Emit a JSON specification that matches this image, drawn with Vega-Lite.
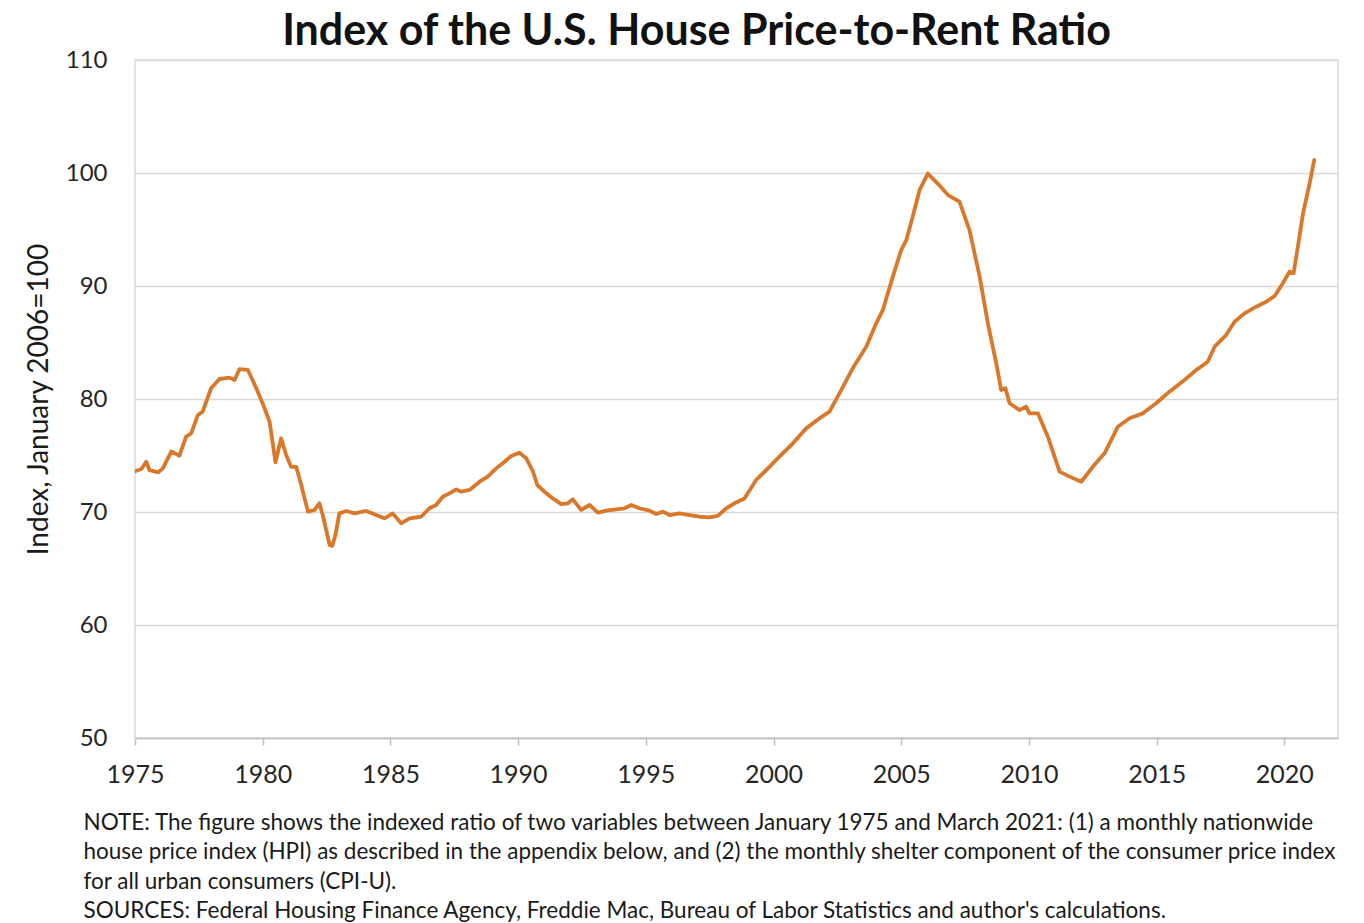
{
  "$schema": "https://vega.github.io/schema/vega-lite/v6.json",
  "autosize": "none",
  "padding": {"left": 135, "top": 60, "right": 26, "bottom": 185},
  "width": 1203,
  "height": 678,
  "background": "white",
  "config": {
    "font": "Lato",
    "view": {"stroke": "#d9d9d9", "strokeWidth": 1.5}
  },
  "title": {
    "text": "Index of the U.S. House Price-to-Rent Ratio",
    "font": "Lato",
    "fontSize": 43,
    "fontWeight": "bold",
    "color": "#111111",
    "anchor": "middle",
    "dx": -40,
    "dy": 20,
    "offset": 14
  },
  "data": {
    "values": [
      {"year": 1975.0, "index": 73.6},
      {"year": 1975.25, "index": 73.8},
      {"year": 1975.44, "index": 74.45},
      {"year": 1975.57, "index": 73.7},
      {"year": 1975.9, "index": 73.5},
      {"year": 1976.09, "index": 73.86},
      {"year": 1976.42, "index": 75.35},
      {"year": 1976.74, "index": 74.98},
      {"year": 1977.0, "index": 76.67},
      {"year": 1977.2, "index": 76.96},
      {"year": 1977.46, "index": 78.58},
      {"year": 1977.65, "index": 78.88},
      {"year": 1977.98, "index": 80.95},
      {"year": 1978.31, "index": 81.77},
      {"year": 1978.7, "index": 81.89},
      {"year": 1978.9, "index": 81.68},
      {"year": 1979.09, "index": 82.65},
      {"year": 1979.42, "index": 82.57},
      {"year": 1979.75, "index": 80.95},
      {"year": 1980.0, "index": 79.6},
      {"year": 1980.27, "index": 77.99},
      {"year": 1980.5, "index": 74.4},
      {"year": 1980.72, "index": 76.52},
      {"year": 1980.92, "index": 75.04},
      {"year": 1981.11, "index": 74.0},
      {"year": 1981.31, "index": 74.0},
      {"year": 1981.51, "index": 72.39},
      {"year": 1981.77, "index": 70.03},
      {"year": 1982.03, "index": 70.18},
      {"year": 1982.22, "index": 70.77},
      {"year": 1982.35, "index": 69.73},
      {"year": 1982.62, "index": 67.08},
      {"year": 1982.72, "index": 67.0},
      {"year": 1982.85, "index": 68.0},
      {"year": 1983.0, "index": 69.88},
      {"year": 1983.27, "index": 70.09},
      {"year": 1983.6, "index": 69.88},
      {"year": 1984.05, "index": 70.09},
      {"year": 1984.44, "index": 69.73},
      {"year": 1984.77, "index": 69.44},
      {"year": 1985.09, "index": 69.88},
      {"year": 1985.42, "index": 69.0},
      {"year": 1985.75, "index": 69.44},
      {"year": 1986.2, "index": 69.58},
      {"year": 1986.53, "index": 70.33},
      {"year": 1986.79, "index": 70.62},
      {"year": 1987.05, "index": 71.35},
      {"year": 1987.31, "index": 71.65},
      {"year": 1987.58, "index": 72.0},
      {"year": 1987.77, "index": 71.8},
      {"year": 1988.1, "index": 71.95},
      {"year": 1988.49, "index": 72.68},
      {"year": 1988.81, "index": 73.13},
      {"year": 1989.14, "index": 73.86},
      {"year": 1989.47, "index": 74.45},
      {"year": 1989.73, "index": 74.96},
      {"year": 1990.05, "index": 75.25},
      {"year": 1990.32, "index": 74.75},
      {"year": 1990.58, "index": 73.6},
      {"year": 1990.75, "index": 72.39},
      {"year": 1991.03, "index": 71.8},
      {"year": 1991.36, "index": 71.2},
      {"year": 1991.69, "index": 70.7},
      {"year": 1991.95, "index": 70.77},
      {"year": 1992.14, "index": 71.12},
      {"year": 1992.47, "index": 70.18},
      {"year": 1992.8, "index": 70.62},
      {"year": 1993.12, "index": 69.94},
      {"year": 1993.45, "index": 70.12},
      {"year": 1993.84, "index": 70.24},
      {"year": 1994.17, "index": 70.33},
      {"year": 1994.43, "index": 70.62},
      {"year": 1994.75, "index": 70.33},
      {"year": 1995.14, "index": 70.12},
      {"year": 1995.41, "index": 69.82},
      {"year": 1995.67, "index": 70.03},
      {"year": 1995.93, "index": 69.73},
      {"year": 1996.32, "index": 69.88},
      {"year": 1996.71, "index": 69.73},
      {"year": 1997.1, "index": 69.58},
      {"year": 1997.49, "index": 69.53},
      {"year": 1997.82, "index": 69.65},
      {"year": 1998.15, "index": 70.33},
      {"year": 1998.47, "index": 70.77},
      {"year": 1998.86, "index": 71.2},
      {"year": 1999.32, "index": 72.83},
      {"year": 1999.84, "index": 74.0},
      {"year": 2000.23, "index": 74.9},
      {"year": 2000.76, "index": 76.08},
      {"year": 2001.28, "index": 77.4},
      {"year": 2001.8, "index": 78.29},
      {"year": 2002.19, "index": 78.88},
      {"year": 2002.58, "index": 80.5},
      {"year": 2003.1, "index": 82.72},
      {"year": 2003.63, "index": 84.63},
      {"year": 2004.02, "index": 86.7},
      {"year": 2004.28, "index": 87.88},
      {"year": 2004.67, "index": 90.83},
      {"year": 2005.0, "index": 93.19},
      {"year": 2005.2, "index": 94.07},
      {"year": 2005.45, "index": 96.14},
      {"year": 2005.72, "index": 98.5},
      {"year": 2006.04, "index": 99.95},
      {"year": 2006.5, "index": 98.9},
      {"year": 2006.83, "index": 98.05},
      {"year": 2007.28, "index": 97.46},
      {"year": 2007.67, "index": 94.96},
      {"year": 2008.07, "index": 90.83},
      {"year": 2008.39, "index": 86.7},
      {"year": 2008.72, "index": 83.16},
      {"year": 2008.91, "index": 80.8},
      {"year": 2009.08, "index": 80.95},
      {"year": 2009.24, "index": 79.62},
      {"year": 2009.63, "index": 79.03},
      {"year": 2009.89, "index": 79.32},
      {"year": 2010.02, "index": 78.73},
      {"year": 2010.35, "index": 78.73},
      {"year": 2010.74, "index": 76.67},
      {"year": 2011.2, "index": 73.57},
      {"year": 2011.59, "index": 73.13},
      {"year": 2012.05, "index": 72.68},
      {"year": 2012.5, "index": 74.0},
      {"year": 2012.96, "index": 75.19},
      {"year": 2013.48, "index": 77.55},
      {"year": 2013.94, "index": 78.29},
      {"year": 2014.46, "index": 78.73},
      {"year": 2014.98, "index": 79.62},
      {"year": 2015.5, "index": 80.65},
      {"year": 2016.09, "index": 81.68},
      {"year": 2016.55, "index": 82.57},
      {"year": 2017.0, "index": 83.3},
      {"year": 2017.27, "index": 84.63},
      {"year": 2017.72, "index": 85.66},
      {"year": 2018.05, "index": 86.84},
      {"year": 2018.44, "index": 87.58},
      {"year": 2018.9, "index": 88.17},
      {"year": 2019.29, "index": 88.61},
      {"year": 2019.62, "index": 89.12},
      {"year": 2019.94, "index": 90.24},
      {"year": 2020.2, "index": 91.27},
      {"year": 2020.36, "index": 91.12},
      {"year": 2020.53, "index": 93.48},
      {"year": 2020.73, "index": 96.43},
      {"year": 2020.99, "index": 99.09},
      {"year": 2021.17, "index": 101.15}
    ]
  },
  "mark": {"type": "line", "color": "#D9782B", "strokeWidth": 3.8, "strokeJoin": "round", "strokeCap": "round", "clip": true},
  "encoding": {
    "x": {
      "field": "year",
      "type": "quantitative",
      "scale": {"domain": [1975, 2022.1], "nice": false, "zero": false},
      "axis": {
        "values": [1975, 1980, 1985, 1990, 1995, 2000, 2005, 2010, 2015, 2020],
        "format": "d",
        "grid": false,
        "domain": true,
        "domainColor": "#bfbfbf",
        "domainWidth": 1.5,
        "ticks": true,
        "tickColor": "#bfbfbf",
        "tickSize": 7,
        "tickWidth": 1.5,
        "labelFontSize": 25,
        "labelColor": "#262626",
        "labelPadding": 17,
        "labelFlush": false,
        "title": [
          "NOTE: The figure shows the indexed ratio of two variables between January 1975 and March 2021: (1) a monthly nationwide",
          "house price index (HPI) as described in the appendix below, and (2) the monthly shelter component of the consumer price index",
          "for all urban consumers (CPI-U).",
          "SOURCES: Federal Housing Finance Agency, Freddie Mac, Bureau of Labor Statistics and author's calculations."
        ],
        "titleFontSize": 22.5,
        "titleFontWeight": "normal",
        "titleColor": "#1a1a1a",
        "titleAlign": "left",
        "titleAnchor": "start",
        "titleBaseline": "top",
        "titleX": -52,
        "titleY": 73,
        "titleLineHeight": 29.5
      }
    },
    "y": {
      "field": "index",
      "type": "quantitative",
      "scale": {"domain": [50, 110], "nice": false, "zero": false},
      "axis": {
        "values": [50, 60, 70, 80, 90, 100, 110],
        "grid": true,
        "gridColor": "#d9d9d9",
        "gridWidth": 1.5,
        "domain": false,
        "ticks": false,
        "labelFontSize": 24,
        "labelColor": "#262626",
        "labelPadding": 28,
        "title": "Index, January 2006=100",
        "titleFontSize": 28,
        "titleFontWeight": "normal",
        "titleColor": "#1a1a1a",
        "titlePadding": 12
      }
    }
  }
}
